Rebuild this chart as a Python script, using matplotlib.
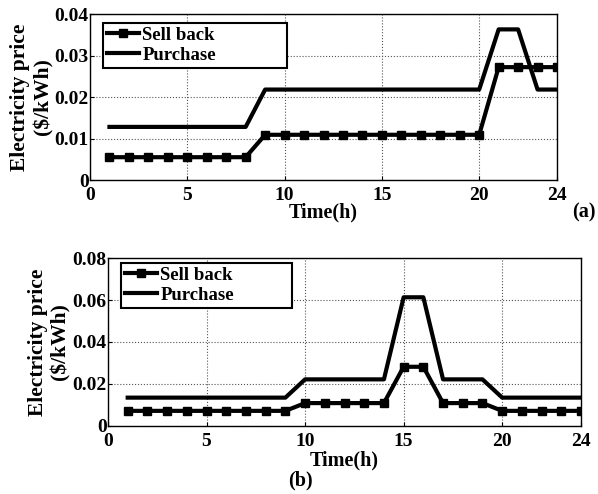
import matplotlib
matplotlib.use("Agg")
import matplotlib.pyplot as plt

hours = list(range(1, 25))
sell_a = [0.0055]*8 + [0.0109]*12 + [0.0272]*4
purchase_a = [0.0128]*8 + [0.0218]*12 + [0.0363]*2 + [0.0218]*2
sell_b = [0.0072]*9 + [0.0109]*5 + [0.0282]*2 + [0.0109]*3 + [0.0072]*5
purchase_b = [0.0135]*9 + [0.0222]*5 + [0.0613]*2 + [0.0222]*3 + [0.0135]*5

xticks = [0, 5, 10, 15, 20, 24]
yticks_a = [0, 0.01, 0.02, 0.03, 0.04]
yticks_b = [0, 0.02, 0.04, 0.06, 0.08]
ytl_a = ["0", "0.01", "0.02", "0.03", "0.04"]
ytl_b = ["0", "0.02", "0.04", "0.06", "0.08"]

plt.rcParams['font.family'] = ['Liberation Serif', 'DejaVu Serif']
plt.rcParams['font.weight'] = 'bold'

fig = plt.figure(figsize=(5.98, 4.94), dpi=100)
ax1 = fig.add_axes([0.1505, 0.6356, 0.781, 0.336])
ax2 = fig.add_axes([0.1806, 0.1377, 0.791, 0.340])

def style(ax, sell, purch, yt, ytl, ymax, legbox, xlab_y):
    ax.plot(hours, sell, color='black', lw=3, marker='s', ms=6, label='Sell back')
    ax.plot(hours, purch, color='black', lw=3, label='Purchase')
    ax.set_xlim(0, 24)
    ax.set_ylim(0, ymax)
    ax.set_xticks(xticks)
    ax.set_xticklabels([str(t) for t in xticks], fontsize=14, fontweight='bold')
    ax.set_yticks(yt)
    ax.set_yticklabels(ytl, fontsize=14, fontweight='bold')
    ax.grid(True, color='#555555', linestyle=':', linewidth=0.8)
    ax.tick_params(direction='in', length=3)
    ax.tick_params(axis='y', pad=1)
    ax.tick_params(axis='x', pad=5)
    for s in ax.spines.values():
        s.set_linewidth(1.0)
    ax.set_ylabel("Electricity price\n($/kWh)", fontsize=15.5, fontweight='bold',
                  linespacing=1.2)
    ax.yaxis.set_label_coords(-0.079, 0.5)
    ax.set_xlabel("Time(h)", fontsize=14.5, fontweight='bold')
    ax.xaxis.set_label_coords(0.5, xlab_y)
    leg = ax.legend(loc='upper left', bbox_to_anchor=legbox, mode='expand',
                    fancybox=False, framealpha=1, edgecolor='black',
                    prop={'weight': 'bold', 'size': 13.5, 'family': 'Liberation Serif'},
                    handlelength=1.7, borderpad=0.2, labelspacing=0.15, handletextpad=0.2,
                    borderaxespad=0)
    leg.get_frame().set_linewidth(1.5)

style(ax1, sell_a, purchase_a, yticks_a, ytl_a, 0.04, (0.028, 0.675, 0.394, 0.271), -0.135)
style(ax2, sell_b, purchase_b, yticks_b, ytl_b, 0.08, (0.0275, 0.690, 0.3615, 0.280), -0.145)

fig.text(0.957, 0.569, "(a)", fontsize=14.5, fontweight='bold', ha='left', va='center')
fig.text(0.502, 0.028, "(b)", fontsize=14.5, fontweight='bold', ha='center', va='center')

fig.savefig("out.png", dpi=100)
